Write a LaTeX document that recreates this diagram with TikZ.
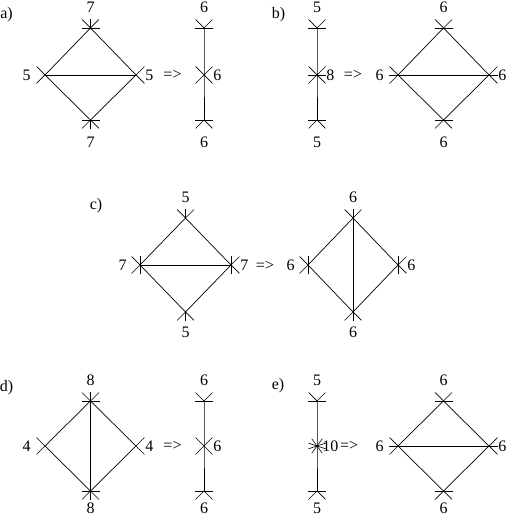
\documentclass[tikz,border=0pt]{standalone}
\usepackage{fontspec}
\setmainfont{Liberation Serif}
\usetikzlibrary{positioning}
% legs on a vertex: straight ones and slanted ones
\newcommand{\axlegs}[2]{\foreach \a in {#2} {\draw (#1) -- ++(\a:9);}}
\newcommand{\dglegs}[2]{\foreach \a in {#2} {\draw (#1) -- ++(\a:12);}}

\begin{document}
\begin{tikzpicture}[x=1pt,y=1pt,line width=0.7pt,
  lbl/.style={font=\fontsize{16}{19}\selectfont, inner sep=0pt}]
  \useasboundingbox (0,0) rectangle (507,519);

  % a)
  \node[lbl] (tagA) at (6.5,504) {a)};
  \coordinate (aT) at (90.5,491);
  \coordinate (aL) at (45,444);
  \coordinate (aR) at (136,444);
  \coordinate (aB) at (90.5,399);
  \draw (aT) -- (aL) -- (aB) -- (aR) -- (aT);
  \draw (aL) -- (aR);
  \axlegs{aT}{0,90,180} \dglegs{aT}{45,135}
  \axlegs{aB}{0,180,270} \dglegs{aB}{225,315}
  \dglegs{aL}{135,225}
  \dglegs{aR}{45,315}
  \node[lbl, above=15pt of aT] (aTn) {7};
  \node[lbl, below=17pt of aB] (aBn) {7};
  \node[lbl, left=14pt of aL] (aLn) {5};
  \node[lbl, right=9pt of aR] (aRn) {5};
  \node[lbl] (arrA) at (172.5,444) {=>};
  \coordinate (apT) at (204,491);
  \coordinate (apM) at (204,444);
  \coordinate (apB) at (204,399);
  \draw (apT) -- (apM) -- (apB);
  \axlegs{apT}{0,180} \dglegs{apT}{45,135}
  \dglegs{apM}{45,135,225,315}
  \axlegs{apB}{0,180} \dglegs{apB}{225,315}
  \node[lbl, above=15pt of apT] (apTn) {6};
  \node[lbl, right=9pt of apM] (apMn) {6};
  \node[lbl, below=17pt of apB] (apBn) {6};

  % b)
  \node[lbl] (tagB) at (278.5,504) {b)};
  \coordinate (bT) at (317,491);
  \coordinate (bM) at (317,444);
  \coordinate (bB) at (317,399);
  \draw (bT) -- (bM) -- (bB);
  \axlegs{bT}{0,180} \dglegs{bT}{45,135}
  \axlegs{bM}{0,180} \dglegs{bM}{45,135,225,315}
  \axlegs{bB}{0,180} \dglegs{bB}{225,315}
  \node[lbl, above=15pt of bT] (bTn) {5};
  \node[lbl, right=9pt of bM] (bMn) {8};
  \node[lbl, below=17pt of bB] (bBn) {5};
  \node[lbl] (arrB) at (353,444) {=>};
  \coordinate (bpT) at (443.5,491);
  \coordinate (bpL) at (398,444);
  \coordinate (bpR) at (489,444);
  \coordinate (bpB) at (443.5,399);
  \draw (bpT) -- (bpL) -- (bpB) -- (bpR) -- (bpT);
  \draw (bpL) -- (bpR);
  \axlegs{bpT}{0,180} \dglegs{bpT}{45,135}
  \axlegs{bpB}{0,180} \dglegs{bpB}{225,315}
  \axlegs{bpL}{180} \dglegs{bpL}{135,225}
  \axlegs{bpR}{0} \dglegs{bpR}{45,315}
  \node[lbl, above=15pt of bpT] (bpTn) {6};
  \node[lbl, below=17pt of bpB] (bpBn) {6};
  \node[lbl, left=14pt of bpL] (bpLn) {6};
  \node[lbl, right=9pt of bpR] (bpRn) {6};

  % c)
  \node[lbl] (tagC) at (96,313) {c)};
  \coordinate (cT) at (185.5,301);
  \coordinate (cL) at (140,254);
  \coordinate (cR) at (231,254);
  \coordinate (cB) at (185.5,207);
  \draw (cT) -- (cL) -- (cB) -- (cR) -- (cT);
  \draw (cL) -- (cR);
  \axlegs{cT}{90} \dglegs{cT}{45,135}
  \axlegs{cB}{270} \dglegs{cB}{225,315}
  \axlegs{cL}{90,270} \dglegs{cL}{135,225}
  \axlegs{cR}{90,270} \dglegs{cR}{45,315}
  \node[lbl, above=15pt of cT] (cTn) {5};
  \node[lbl, below=15pt of cB] (cBn) {5};
  \node[lbl, left=13pt of cL] (cLn) {7};
  \node[lbl, right=9pt of cR] (cRn) {7};
  \node[lbl] (arrC) at (265,253) {=>};
  \coordinate (cpT) at (353,301);
  \coordinate (cpL) at (308,254);
  \coordinate (cpR) at (398,254);
  \coordinate (cpB) at (353,207);
  \draw (cpT) -- (cpL) -- (cpB) -- (cpR) -- (cpT);
  \draw (cpT) -- (cpB);
  \axlegs{cpT}{90} \dglegs{cpT}{45,135}
  \axlegs{cpB}{270} \dglegs{cpB}{225,315}
  \axlegs{cpL}{90,270} \dglegs{cpL}{135,225}
  \axlegs{cpR}{90,270} \dglegs{cpR}{45,315}
  \node[lbl, above=15pt of cpT] (cpTn) {6};
  \node[lbl, below=15pt of cpB] (cpBn) {6};
  \node[lbl, left=13pt of cpL] (cpLn) {6};
  \node[lbl, right=9pt of cpR] (cpRn) {6};

  % d)
  \node[lbl] (tagD) at (6.5,131) {d)};
  \coordinate (dT) at (90.5,118);
  \coordinate (dL) at (45,73);
  \coordinate (dR) at (136,73);
  \coordinate (dB) at (90.5,28);
  \draw (dT) -- (dL) -- (dB) -- (dR) -- (dT);
  \draw (dT) -- (dB);
  \axlegs{dT}{0,90,180} \dglegs{dT}{45,135}
  \axlegs{dB}{0,180,270} \dglegs{dB}{225,315}
  \dglegs{dL}{135,225}
  \dglegs{dR}{45,315}
  \node[lbl, above=15pt of dT] (dTn) {8};
  \node[lbl, below=12pt of dB] (dBn) {8};
  \node[lbl, left=14pt of dL] (dLn) {4};
  \node[lbl, right=9pt of dR] (dRn) {4};
  \node[lbl] (arrD) at (172.5,73) {=>};
  \coordinate (dpT) at (204,118);
  \coordinate (dpM) at (204,73);
  \coordinate (dpB) at (204,28);
  \draw (dpT) -- (dpM) -- (dpB);
  \axlegs{dpT}{0,180} \dglegs{dpT}{45,135}
  \dglegs{dpM}{45,135,225,315}
  \axlegs{dpB}{0,180} \dglegs{dpB}{225,315}
  \node[lbl, above=15pt of dpT] (dpTn) {6};
  \node[lbl, right=9pt of dpM] (dpMn) {6};
  \node[lbl, below=12pt of dpB] (dpBn) {6};

  % e)
  \node[lbl] (tagE) at (278,133) {e)};
  \coordinate (eT) at (317,118);
  \coordinate (eM) at (317,73);
  \coordinate (eB) at (317,28);
  \draw (eT) -- (eM) -- (eB);
  \axlegs{eT}{0,180} \dglegs{eT}{45,135}
  \foreach \a in {18,54,126,162,198,234,306,342} {\draw[line width=0.6pt] (eM) -- ++(\a:9);}
  \axlegs{eB}{0,180} \dglegs{eB}{225,315}
  \node[lbl, above=15pt of eT] (eTn) {5};
  \node[lbl, right=5pt of eM] (eMn) {10};
  \node[lbl, below=12pt of eB] (eBn) {5};
  \node[lbl, right=1pt of eMn] (arrE) {=>};
  \coordinate (epT) at (443.5,118);
  \coordinate (epL) at (398,73);
  \coordinate (epR) at (489,73);
  \coordinate (epB) at (443.5,28);
  \draw (epT) -- (epL) -- (epB) -- (epR) -- (epT);
  \draw (epL) -- (epR);
  \axlegs{epT}{0,180} \dglegs{epT}{45,135}
  \axlegs{epB}{0,180} \dglegs{epB}{225,315}
  \axlegs{epL}{180} \dglegs{epL}{135,225}
  \axlegs{epR}{0} \dglegs{epR}{45,315}
  \node[lbl, above=15pt of epT] (epTn) {6};
  \node[lbl, below=12pt of epB] (epBn) {6};
  \node[lbl, left=14pt of epL] (epLn) {6};
  \node[lbl, right=9pt of epR] (epRn) {6};
\end{tikzpicture}
\end{document}
